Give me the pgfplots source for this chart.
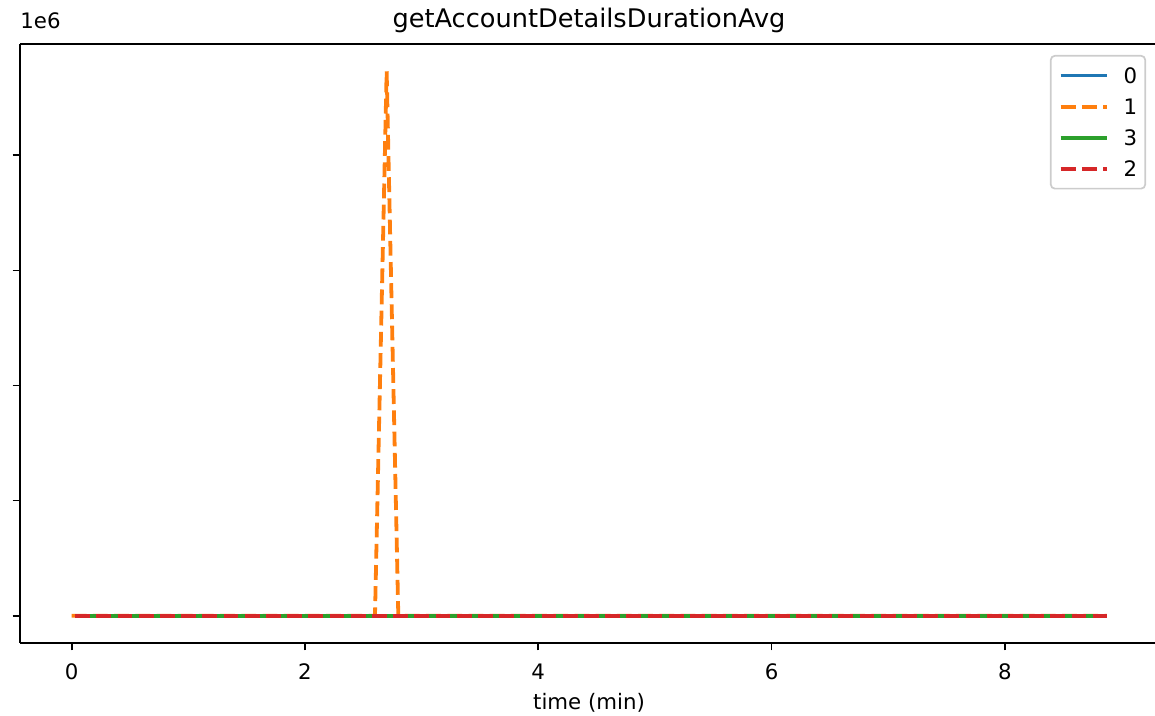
\documentclass[border=0pt]{standalone}
\usepackage{pgfplots}
\pgfplotsset{compat=1.18}
\usepackage{fontspec}
\setmainfont{DejaVu Sans}
\definecolor{tabblue}{HTML}{1F77B4}
\definecolor{taborange}{HTML}{FF7F0E}
\definecolor{tabgreen}{HTML}{2CA02C}
\definecolor{tabred}{HTML}{D62728}
\begin{document}
\begin{tikzpicture}
\path[use as bounding box] (-10pt,-36.5pt) rectangle (567.5pt,321.5pt);
\clip (-10pt,-36.5pt) rectangle (567.5pt,321.5pt);
\begin{axis}[
  name=ax,
  at={(0,0)}, anchor=south west,
  scale only axis, width=569pt, height=299.5pt,
  xmin=-0.4435, xmax=9.3135,
  ymin=-236500, ymax=4966500,
  axis lines*=left,
  xtick={0,2,4,6,8},
  ytick={0,1000000,2000000,3000000,4000000},
  yticklabels={},
  scaled y ticks=false,
  tick align=outside, major tick length=3.7pt,
  every tick/.style={black, line width=0.85pt},
  axis line style={-, line width=0.85pt},
  xtick pos=bottom, ytick pos=left,
  /pgf/number format/assume math mode=true,
  tick label style={font=\fontsize{10.65}{12}\selectfont},
  xticklabel style={anchor=base, yshift=-14.5pt, inner sep=0pt},
  xlabel={time (min)},
  xlabel style={at={(axis description cs:0.5,0)}, anchor=base, yshift=-33.3pt, inner sep=0pt, font=\fontsize{10.65}{12}\selectfont},
  title={getAccountDetailsDurationAvg},
  title style={at={(axis description cs:0.5,1)}, anchor=base, yshift=2pt, inner sep=0pt, font=\fontsize{12.8}{14}\selectfont},
  legend style={at={(axis description cs:1,1)}, anchor=north east, xshift=-6pt, yshift=-5.5pt,
    draw=black!20, line width=0.85pt, rounded corners=2pt, fill=white, fill opacity=0.8, text opacity=1,
    inner xsep=4pt, inner ysep=6pt, row sep=8pt,
    font=\fontsize{10.65}{12}\selectfont,
    nodes={inner sep=0pt, text height=7.6pt, text depth=0pt},
    /tikz/every odd column/.append style={column sep=7.5pt}},
  legend cell align=left,
  legend image code/.code={\draw[#1, line width=1.9pt] (0pt,0pt) -- (23pt,0pt);},
]
\addplot[tabblue, solid, line width=1.9pt] coordinates {(0.03,0) (8.876,0)};
\addlegendentry{0}
\addplot[taborange, line width=1.9pt, dash pattern=on 7.4pt off 3.2pt] coordinates {(0,0) (2.6,0) (2.7,4730000) (2.8,0) (8.876,0)};
\addlegendentry{1}
\addplot[tabgreen, solid, line width=1.9pt] coordinates {(0.03,0) (8.876,0)};
\addlegendentry{3}
\addplot[tabred, line width=1.9pt, dash pattern=on 7.4pt off 3.2pt] coordinates {(0.03,0) (8.876,0)};
\addlegendentry{2}
\end{axis}
\draw[line width=0.85pt] (ax.north west) -- (ax.north east);
\node[anchor=base west, inner sep=0pt, font=\fontsize{10.65}{12}\selectfont] at ([yshift=7.5pt]ax.north west) {1e6};
\end{tikzpicture}
\end{document}
